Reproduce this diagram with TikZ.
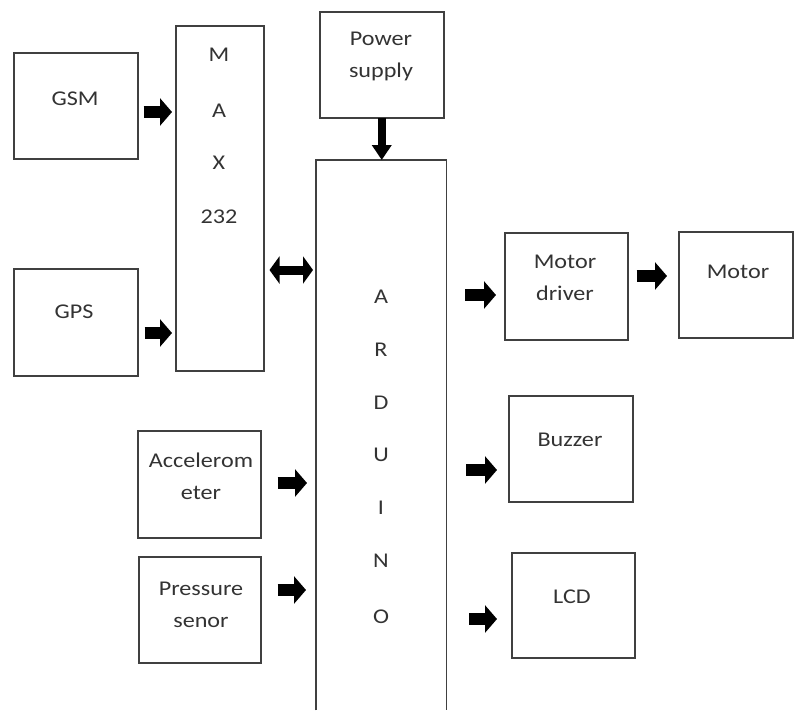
\documentclass[tikz,border=0pt]{standalone}
\usepackage{fontspec}
\setmainfont[FakeStretch=1.15]{Carlito}
\usetikzlibrary{arrows.meta}
\tikzset{
  box/.style={draw=black!75, line width=1.5pt, inner sep=0pt, anchor=north west},
  boxline/.style={draw=black!75, line width=1.5pt},
  txt/.style={text=black!80, font=\fontsize{21}{32}\selectfont, align=center, inner sep=0pt},
  blk/.style={line width=12pt, -{Triangle[length=12pt,width=27pt]}},
  blkdbl/.style={line width=9pt, {Triangle[length=10pt,width=27pt]}-{Triangle[length=10pt,width=27pt]}},
  blkdown/.style={line width=8pt, -{Triangle[length=15pt,width=19pt]}},
}
\begin{document}
\begin{tikzpicture}[x=1pt,y=-1pt]
\useasboundingbox (0,0) rectangle (794,710);
% boxes
\node[box, minimum width=124pt, minimum height=106pt] (gsm) at (13,52) {};
\node[box, minimum width=124pt, minimum height=107pt] (gps) at (13,268) {};
\node[box, minimum width=88pt, minimum height=345pt] (max) at (175,25) {};
\node[box, minimum width=124pt, minimum height=106pt] (pwr) at (319,11) {};
\node[inner sep=0pt, anchor=north west, minimum width=130pt, minimum height=550pt] (ard) at (316,160) {};
\draw[boxline] (ard.south west) -- (ard.north west) -- (ard.north east) -- (ard.south east);
\node[box, minimum width=123pt, minimum height=107pt] (mdrv) at (504,232) {};
\node[box, minimum width=114pt, minimum height=106pt] (motor) at (678,231) {};
\node[box, minimum width=124pt, minimum height=106pt] (buz) at (508,395) {};
\node[box, minimum width=123pt, minimum height=105pt] (lcd) at (511,552) {};
\node[box, minimum width=123pt, minimum height=107pt] (acc) at (137,430) {};
\node[box, minimum width=122pt, minimum height=106pt] (prs) at (138,556) {};
% texts
\node[txt] (tgsm) at (75,99) {GSM};
\node[txt] (tgps) at (74,312) {GPS};
\node[txt] (tm) at (219,55) {M};
\node[txt] (ta) at (219,111) {A};
\node[txt] (tx) at (219,163) {X};
\node[txt] (t232) at (219,217) {232};
\node[txt] (tpwr) at (381,56) {Power\\supply};
\node[txt] (tmdrv) at (565,278) {Motor\\driver};
\node[txt] (tmotor) at (738,272) {Motor};
\node[txt] (tbuz) at (570,440) {Buzzer};
\node[txt] (tlcd) at (572,597) {LCD};
\node[txt] (tacc) at (201,476) {Accelerom\\eter};
\node[txt] (tprs) at (201,605) {Pressure\\senor};
\foreach \l/\y [count=\i] in {A/297,R/350,D/403,U/455,I/508,N/561,O/617}
  \node[txt] (ta\i) at (381,\y) {\l};
% arrows
\draw[blk] ([xshift=5pt]gsm.east |- 0,112) -- ([xshift=-3pt]max.west |- 0,112);
\draw[blk] ([xshift=6pt]gps.east |- 0,333) -- ([xshift=-3pt]max.west |- 0,333);
\draw[blkdbl] ([xshift=5pt]max.east |- 0,270) -- ([xshift=-3pt]ard.west |- 0,270);
\draw[blkdown] ([yshift=-1pt]pwr.south |- 0,117) -- (pwr.south |- ard.north);
\draw[blk] ([xshift=19pt]ard.east |- 0,295) -- ([xshift=-8pt]mdrv.west |- 0,295);
\draw[blk] ([xshift=8pt]mdrv.east |- 0,276) -- ([xshift=-11pt]motor.west |- 0,276);
\draw[blk] ([xshift=20pt]ard.east |- 0,470) -- ([xshift=-11pt]buz.west |- 0,470);
\draw[blk] ([xshift=23pt]ard.east |- 0,619) -- ([xshift=-14pt]lcd.west |- 0,619);
\draw[blk] ([xshift=16pt]acc.east |- 0,483) -- ([xshift=-9pt]ard.west |- 0,483);
\draw[blk] ([xshift=16pt]prs.east |- 0,590) -- ([xshift=-10pt]ard.west |- 0,590);
\end{tikzpicture}
\end{document}
